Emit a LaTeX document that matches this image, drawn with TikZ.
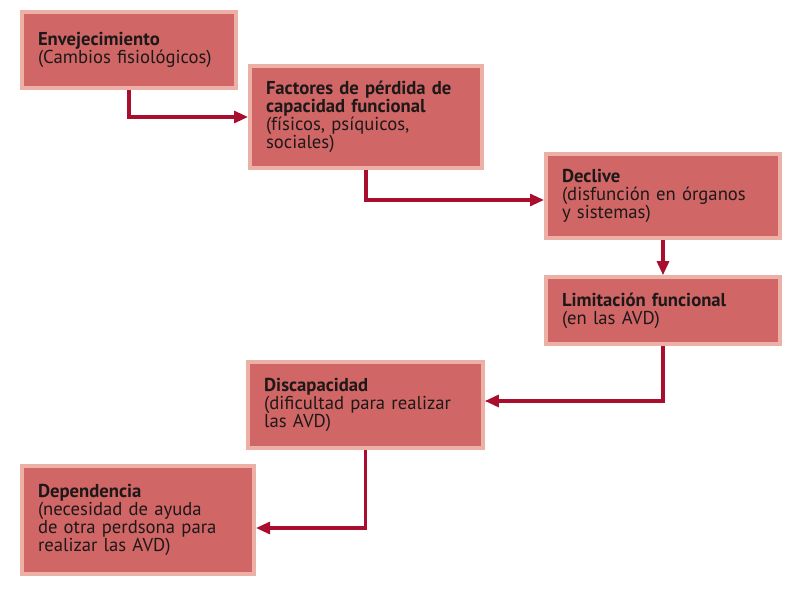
\documentclass[tikz,border=0pt]{standalone}
\usepackage{fontspec}
\setmainfont{PT Sans}
\usetikzlibrary{arrows.meta}
\definecolor{boxfill}{RGB}{208,102,102}
\definecolor{boxline}{RGB}{236,176,166}
\definecolor{flowred}{RGB}{170,14,46}
\definecolor{inktext}{RGB}{30,24,24}

\begin{document}
\begin{tikzpicture}[x=0.75pt,y=-0.75pt,
  font=\fontsize{14}{13.6}\selectfont,
  box/.style={draw=boxline, fill=boxfill, line width=3pt, text=inktext,
    align=left, inner xsep=12pt, inner ysep=0pt, outer sep=1.5pt},
  flow/.style={draw=flowred, line width=2.3pt, -{Triangle[length=10.5pt,width=9pt]}}]
\useasboundingbox (0,0) rectangle (790,591);

\node[box, minimum width=160.5pt, minimum height=57pt, text width=136.5pt] (env) at (129,50)
  {\textbf{Envejecimiento}\\(Cambios fisiológicos)};
\node[box, minimum width=174pt, minimum height=76.5pt, text width=150pt] (fac) at (366,117)
  {\textbf{Factores de pérdida de}\\\textbf{capacidad funcional}\\(físicos, psíquicos,\\sociales)};
\node[box, minimum width=175.5pt, minimum height=63pt, text width=151.5pt] (dec) at (663,196)
  {\textbf{Declive}\\(disfunción en órganos\\y sistemas)};
\node[box, minimum width=175.5pt, minimum height=50pt, text width=151.5pt] (lim) at (663,310.5)
  {\textbf{Limitación funcional}\\(en las AVD)};
\node[box, minimum width=176pt, minimum height=64.5pt, text width=152pt] (dis) at (365.5,405)
  {\textbf{Discapacidad}\\(dificultad para realizar\\las AVD)};
\node[box, minimum width=174pt, minimum height=81pt, text width=150pt] (dep) at (138,520)
  {\textbf{Dependencia}\\(necesidad de ayuda\\de otra perdsona para\\realizar las AVD)};

\draw[flow] (env.south) |- (fac.west);
\draw[flow] (fac.south) |- ([yshift=-3pt]dec.west);
\draw[flow] (dec.south) -- (lim.north);
\draw[flow] (lim.south) |- ([yshift=3pt]dis.east);
\draw[flow] (dis.south) |- ([yshift=-6pt]dep.east);

\end{tikzpicture}
\end{document}
